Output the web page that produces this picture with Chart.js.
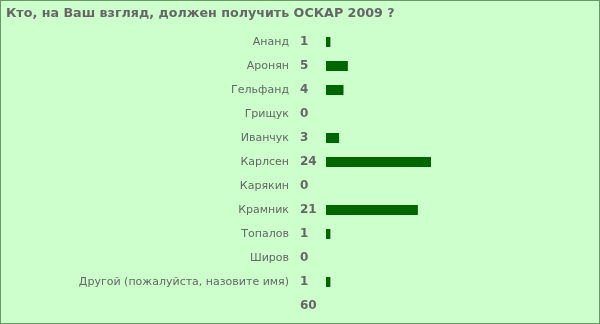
<!DOCTYPE html>
<html>
<head>
<meta charset="utf-8">
<script src="https://cdn.jsdelivr.net/npm/chart.js@4/dist/chart.umd.min.js"></script>
<style>
  html, body { margin: 0; padding: 0; background: #ccffcc; }
  #wrap { width: 600px; height: 324px; position: relative; }
</style>
</head>
<body>
<div id="wrap"><canvas id="poll" width="600" height="324"></canvas></div>
<script>
var titleText = "Кто, на Ваш взгляд, должен получить ОСКАР 2009 ?";
var players = ["Ананд", "Аронян", "Гельфанд", "Грищук", "Иванчук", "Карлсен",
               "Карякин", "Крамник", "Топалов", "Широв", "Другой (пожалуйста, назовите имя)"];
var votes = [1, 5, 4, 0, 3, 24, 0, 21, 1, 0, 1];
var totalVotes = 60;

var textColor = '#666666';
var fontName = '"DejaVu Sans", Verdana, sans-serif';

// background + border
var frame = {
    id: 'frame',
    beforeDraw: function (chart) {
        var ctx = chart.ctx;
        ctx.save();
        ctx.fillStyle = '#ccffcc';
        ctx.fillRect(0, 0, chart.width, chart.height);
        ctx.strokeStyle = '#669966';
        ctx.lineWidth = 1;
        ctx.strokeRect(0.5, 0.5, chart.width - 1, chart.height - 1);
        ctx.restore();
    }
};

// vote counts next to the names, and the total underneath
var counts = {
    id: 'counts',
    afterDatasetsDraw: function (chart) {
        var ctx = chart.ctx;
        var yScale = chart.scales.y;
        ctx.save();
        ctx.font = 'bold 12px ' + fontName;
        ctx.fillStyle = textColor;
        ctx.textAlign = 'left';
        ctx.textBaseline = 'middle';
        for (var i = 0; i < votes.length; i++) {
            ctx.fillText(String(votes[i]), 300, yScale.getPixelForValue(i));
        }
        ctx.fillText(String(totalVotes), 300, chart.chartArea.bottom + 12);
        ctx.restore();
    }
};

new Chart(document.getElementById('poll'), {
    type: 'bar',
    data: {
        labels: players,
        datasets: [{
            data: votes,
            backgroundColor: '#006600',
            borderWidth: 0,
            inflateAmount: 0,
            barThickness: 10
        }]
    },
    options: {
        indexAxis: 'y',
        responsive: false,
        animation: false,
        layout: { padding: { left: 6, right: 11.5, top: 0, bottom: 30 } },
        plugins: {
            legend: { display: false },
            tooltip: { enabled: false },
            title: {
                display: true,
                text: titleText,
                align: 'start',
                color: textColor,
                font: { family: fontName, size: 12.7, weight: 'bold', lineHeight: 1.2 },
                padding: { top: 6, bottom: 8.76 }
            }
        },
        scales: {
            x: {
                display: false,
                min: 0,
                max: totalVotes
            },
            y: {
                grid: { display: false, drawTicks: false },
                border: { display: false },
                ticks: {
                    color: textColor,
                    padding: 37,
                    font: { family: fontName, size: 11 }
                },
                afterFit: function (scale) {
                    scale.width = 320;
                    scale.paddingTop = 0;
                    scale.paddingBottom = 0;
                }
            }
        }
    },
    plugins: [frame, counts]
});
</script>
</body>
</html>
